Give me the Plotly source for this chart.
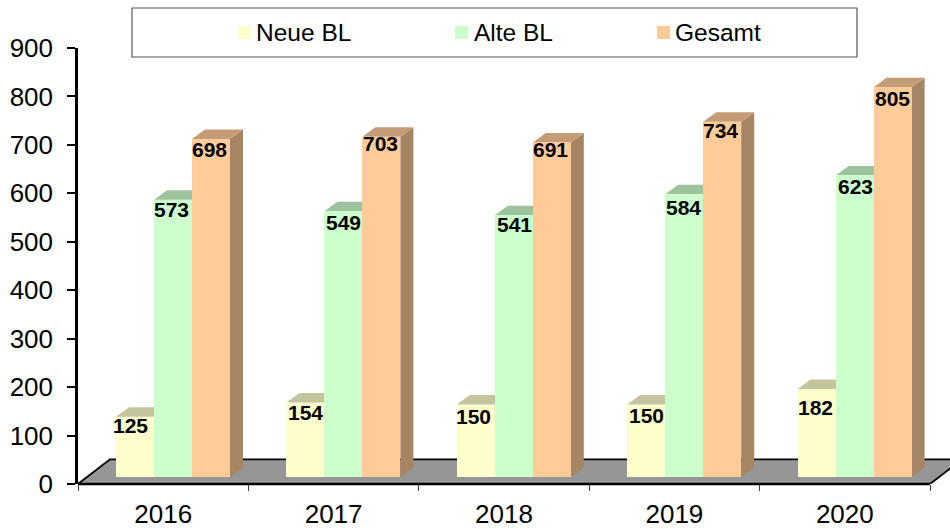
import plotly.graph_objects as go

CATEGORIES = ["2016", "2017", "2018", "2019", "2020"]
NEUE = [125, 154, 150, 150, 182]
ALTE = [573, 549, 541, 584, 623]
GESAMT = [698, 703, 691, 734, 805]
SERIES = [("Neue BL", NEUE), ("Alte BL", ALTE), ("Gesamt", GESAMT)]
FRONT = ["#FFFFCC", "#CCFFCC", "#FFCC99"]
TOP = ["#C4C49D", "#9DC49D", "#C49D76"]
SIDE = ["#A6A684", "#85A685", "#A68563"]
LABEL_DX = [[-5, 0.5, -2.5, 0.5, -1.5], [-2, 0.5, 0.5, -0.5, 0.5], [-2, -0.5, -1.5, -1.5, -0.5]]
LABEL_DY = [[9.3, 9.4, 12.4, 11.4, 18], [10.3, 11.7, 9.8, 12.7, 10.6], [10.9, 7.3, 7.5, 9.3, 11.7]]

# plot frame in pixels; the x axis range runs on to the window edge for the floor
L, R, T, B = 78, 930, 48, 484
W, H = 950, 529
PX = (R - L) / 5
PY = (B - T) / 900
XMAX = (W - L) / PX
FONT = "Liberation Sans, Arial, sans-serif"

BAR_BASE = 14
BAR_W = 38 / PX
BAR_START = 38 / PX
DEPTH_X = 13 / PX
DEPTH_Y = 9.5 / PY
FLOOR_X = 32 / PX
FLOOR_Y = 24.7 / PY

fig = go.Figure()

# floor
fig.add_trace(go.Scatter(
    x=[0, FLOOR_X, 5 + FLOOR_X, 5, 0], y=[0, FLOOR_Y, FLOOR_Y, 0, 0],
    mode="lines", fill="toself", fillcolor="#969696",
    line=dict(color="#000000", width=1.8),
    hoverinfo="skip", showlegend=False,
))

# 3-D top and side faces derived from values
for j, (name, vals) in enumerate(SERIES):
    for i, v in enumerate(vals):
        x0 = i + BAR_START + j * BAR_W
        x1 = x0 + BAR_W
        top = BAR_BASE + v
        fig.add_trace(go.Scatter(
            x=[x1, x1 + DEPTH_X, x1 + DEPTH_X, x1, x1],
            y=[BAR_BASE, BAR_BASE + DEPTH_Y, top + DEPTH_Y, top, BAR_BASE],
            mode="lines", fill="toself", fillcolor=SIDE[j], line=dict(width=0),
            hoverinfo="skip", showlegend=False,
        ))
        fig.add_trace(go.Scatter(
            x=[x0, x0 + DEPTH_X, x1 + DEPTH_X, x1, x0],
            y=[top, top + DEPTH_Y, top + DEPTH_Y, top, top],
            mode="lines", fill="toself", fillcolor=TOP[j], line=dict(width=0),
            hoverinfo="skip", showlegend=False,
        ))

# front faces, on an overlaid axis pair so they cover the faces above
for j, (name, vals) in enumerate(SERIES):
    fig.add_trace(go.Bar(
        x=[i + BAR_START + (j + 0.5) * BAR_W for i in range(len(vals))],
        y=vals, base=BAR_BASE, width=BAR_W, name=name,
        marker=dict(color=FRONT[j], line=dict(width=0)),
        xaxis="x2", yaxis="y2", showlegend=False,
    ))

annotations = []
for j, (name, vals) in enumerate(SERIES):
    for i, v in enumerate(vals):
        annotations.append(dict(
            x=i + BAR_START + (j + 0.5) * BAR_W, y=BAR_BASE + v,
            xref="x2", yref="y2", text=f"<b>{v}</b>", showarrow=False,
            xanchor="center", yanchor="middle",
            xshift=LABEL_DX[j][i], yshift=-LABEL_DY[j][i],
            font=dict(family=FONT, size=21, color="#000000"),
        ))

PLOT_W = W - L

def px(x):
    return (x - L) / PLOT_W

def py(y):
    return (B - y) / (B - T)

shapes = [
    dict(type="line", xref="x", yref="paper", x0=0, x1=5, y0=0, y1=0,
         line=dict(color="#000000", width=2.5)),
    dict(type="rect", xref="paper", yref="paper", x0=px(132), x1=px(857),
         y0=py(57), y1=py(8), fillcolor="#FFFFFF", line=dict(color="#595959", width=1.2)),
]
for (name, _), color, mx, tx in zip(SERIES, FRONT, [238, 455, 657], [256, 474, 675]):
    shapes.append(dict(type="rect", xref="paper", yref="paper", x0=px(mx), x1=px(mx + 13),
                       y0=py(39), y1=py(26), fillcolor=color, line=dict(width=0)))
    annotations.append(dict(x=px(tx), y=py(32), xref="paper", yref="paper", text=name,
                            showarrow=False, xanchor="left", yanchor="middle", xshift=-2,
                            font=dict(family=FONT, size=24.5, color="#000000")))

axis_common = dict(showgrid=False, zeroline=False, automargin=False)
fig.update_layout(
    width=W, height=H, autosize=False, barmode="overlay", bargap=0,
    margin=dict(l=L, r=0, t=T, b=H - B, pad=0, autoexpand=False),
    paper_bgcolor="#FFFFFF", plot_bgcolor="rgba(0,0,0,0)",
    showlegend=False, shapes=shapes, annotations=annotations,
    font=dict(family=FONT, size=26, color="#000000"),
    xaxis=dict(range=[0, XMAX], tickmode="array", tickvals=[0.5, 1.5, 2.5, 3.5, 4.5],
               ticktext=CATEGORIES, ticks="", showline=False,
               ticklabelstandoff=12, tickfont=dict(size=26),
               minor=dict(tick0=0, dtick=1, ticks="outside", ticklen=6, tickwidth=1, tickcolor="#404040", showgrid=False),
               **axis_common),
    yaxis=dict(range=[0, 900], tickmode="linear", tick0=0, dtick=100, ticks="outside",
               ticklen=8, tickwidth=1.5, tickcolor="#000000", showline=True, linecolor="#000000",
               linewidth=2.5, ticklabelstandoff=9, tickfont=dict(size=26), **axis_common),
    xaxis2=dict(range=[0, XMAX], overlaying="x", visible=False, **axis_common),
    yaxis2=dict(range=[0, 900], overlaying="y", visible=False, **axis_common),
)

fig.write_html("out.html", config=dict(displayModeBar=False),
               post_script="document.body.style.margin='0';document.documentElement.style.overflow='hidden';")
